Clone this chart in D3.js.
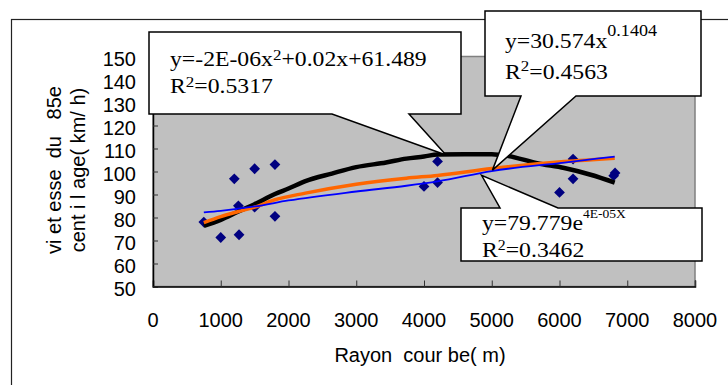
<!DOCTYPE html>
<meta charset="utf-8">
<head>
	<title>Vitesse du 85e centile</title>
	<script type="text/javascript" src="https://cdn.jsdelivr.net/npm/d3@7"></script>
	<style>
		body { margin: 0; background: #fff; }
		text { white-space: pre; }
	</style>
</head>
<body>
	<div id="chart"></div>
	<script>

		// data
		const xTicks = [0, 1000, 2000, 3000, 4000, 5000, 6000, 7000, 8000];
		const yTicks = [50, 60, 70, 80, 90, 100, 110, 120, 130, 140, 150];

		const rayon   = [750, 1000, 1200, 1260, 1270, 1500, 1500, 1800, 1800, 4000, 4200, 4200, 6000, 6200, 6200, 6800, 6820];
		const vitesse = [78, 71.3, 96.8, 85.1, 72.5, 101.2, 84.5, 103, 80.5, 93.5, 104.4, 95.2, 90.9, 105.4, 96.8, 98.2, 99.4];

		// trend lines as drawn
		const polyX = [750, 1000, 1260, 1500, 1800, 2000, 2250, 2640, 3000, 3440, 3740, 4000, 4200, 4600, 5000, 5230, 5670, 6070, 6460, 6815];
		const polyY = [76.4, 79, 82.6, 85.8, 90.2, 92.6, 95.8, 99.1, 101.9, 103.9, 105.6, 106.5, 107.4, 107.5, 107.5, 106.8, 103.6, 101.5, 98.6, 95.2];
		const powX = [750, 1000, 1260, 1500, 1800, 2250, 3000, 3740, 4200, 5000, 6070, 6815];
		const powY = [77.8, 80.4, 82.6, 84.5, 87.7, 90.6, 94.5, 97.1, 98.3, 101.3, 104.3, 105.8];
		const expX = [750, 1000, 1500, 2000, 3000, 3740, 4200, 5000, 6070, 6815];
		const expY = [82.2, 82.9, 84.8, 87.4, 91.3, 93.8, 95.7, 100.2, 103.9, 106.5];

		const width = 728;
		const height = 385;

		const svg = d3.select("#chart")
			.append("svg")
			.attr("width", width)
			.attr("height", height);

		const x = d3.scaleLinear().domain([0, 8000]).range([153, 695]);
		const y = d3.scaleLinear().domain([50, 150]).range([286.5, 56.5]);

		// chart frame
		svg.append("rect")
			.attr("x", 11.5).attr("y", 19.5)
			.attr("width", 800).attr("height", 400)
			.attr("fill", "none")
			.attr("stroke", "#222")
			.attr("stroke-width", 1.2);

		// plot area
		svg.append("rect")
			.attr("x", x(0)).attr("y", y(150))
			.attr("width", x(8000) - x(0)).attr("height", y(50) - y(150))
			.attr("fill", "#c0c0c0")
			.attr("stroke", "#808080")
			.attr("stroke-width", 1.5);

		// axes, ticks inside
		const xAxis = svg.append("g")
			.attr("transform", `translate(0,${y(50)})`)
			.call(d3.axisTop(x).tickValues(xTicks).tickSize(6).tickFormat(""));
		const yAxis = svg.append("g")
			.attr("transform", `translate(${x(0)},0)`)
			.call(d3.axisRight(y).tickValues(yTicks).tickSize(5).tickFormat(""));
		[xAxis, yAxis].forEach(a => {
			a.select(".domain").attr("stroke", "#000").attr("stroke-width", 1.5);
			a.selectAll(".tick line").attr("stroke", "#333");
		});

		svg.append("g").selectAll("text")
			.data(xTicks).enter().append("text")
			.attr("x", d => x(d))
			.attr("y", 327)
			.attr("text-anchor", "middle")
			.attr("font-family", "Liberation Sans, Arial, sans-serif")
			.attr("font-size", 20)
			.text(d => d);

		svg.append("g").selectAll("text")
			.data(yTicks).enter().append("text")
			.attr("x", 136)
			.attr("y", d => y(d) + 9)
			.attr("text-anchor", "end")
			.attr("font-family", "Liberation Sans, Arial, sans-serif")
			.attr("font-size", 20)
			.text(d => d);

		// axis titles
		svg.append("text")
			.attr("x", 420).attr("y", 362)
			.attr("text-anchor", "middle")
			.attr("font-family", "Liberation Sans, Arial, sans-serif")
			.attr("font-size", 20)
			.text("Rayon  cour be( m)");

		const yTitle = ["vi et esse  du   85e", "cent i l age( km/ h)"];
		svg.append("g").selectAll("text")
			.data(yTitle).enter().append("text")
			.attr("transform", (d, i) => `translate(${61 + i * 24},170) rotate(-90)`)
			.attr("text-anchor", "middle")
			.attr("font-family", "Liberation Sans, Arial, sans-serif")
			.attr("font-size", 20)
			.text(d => d);

		// points
		const pts = rayon.map((r, i) => [r, vitesse[i]]);
		svg.append("g").selectAll("path")
			.data(pts).enter().append("path")
			.attr("d", d3.symbol(d3.symbolSquare, 58))
			.attr("transform", d => `translate(${x(d[0])},${y(d[1])}) rotate(45)`)
			.attr("fill", "#000080");

		// trend lines
		const line = d3.line().x(d => x(d[0])).y(d => y(d[1])).curve(d3.curveMonotoneX);
		const trends = [
			{xs: polyX, ys: polyY, color: "#000", w: 4.5},
			{xs: powX, ys: powY, color: "#ff6600", w: 3.5},
			{xs: expX, ys: expY, color: "#0000ff", w: 1.8}
		];
		trends.forEach(t => {
			svg.append("path")
				.datum(t.xs.map((v, i) => [v, t.ys[i]]))
				.attr("d", line)
				.attr("fill", "none")
				.attr("stroke", t.color)
				.attr("stroke-width", t.w);
		});

		// callouts with the trend equations
		function callout(pts) {
			svg.append("path")
				.attr("d", "M" + pts.map(p => p.join(",")).join("L") + "Z")
				.attr("fill", "#fff")
				.attr("stroke", "#000")
				.attr("stroke-width", 1.5);
		}
		callout([[149, 32], [461, 32], [461, 114], [409, 114], [x(4325), y(107.2)], [332, 114], [149, 114]]);
		callout([[485, 11], [701, 11], [701, 96], [576, 96], [x(5010), y(100.6)], [521, 96], [485, 96]]);
		callout([[461, 208], [500, 208], [x(4850), y(98.3)], [558, 208], [702, 208], [702, 261], [461, 261]]);

		// parts: [text, sup, text, sup offset, sup size]
		function label(x0, base, parts) {
			const t = svg.append("g")
				.attr("transform", `translate(${x0},${base}) scale(1.13,1)`)
				.append("text")
				.attr("font-family", "Liberation Serif, Times New Roman, serif")
				.attr("font-size", 21);
			t.append("tspan").text(parts[0]);
			if (parts[1]) {
				t.append("tspan").attr("dy", -parts[3]).attr("font-size", parts[4]).text(parts[1]);
				if (parts[2]) t.append("tspan").attr("dy", parts[3]).text(parts[2]);
			}
		}
		label(170, 66, ["y=-2E-06x", "2", "+0.02x+61.489", 6, 15]);
		label(170, 93, ["R", "2", "=0.5317", 6, 15]);
		label(505, 48, ["y=30.574x", "0.1404", "", 12, 16]);
		label(505, 79, ["R", "2", "=0.4563", 8, 15]);
		label(482, 230, ["y=79.779e", "4E-05X", "", 12, 12]);
		label(482, 257, ["R", "2", "=0.3462", 7, 14]);

	</script>
</body>
</html>
